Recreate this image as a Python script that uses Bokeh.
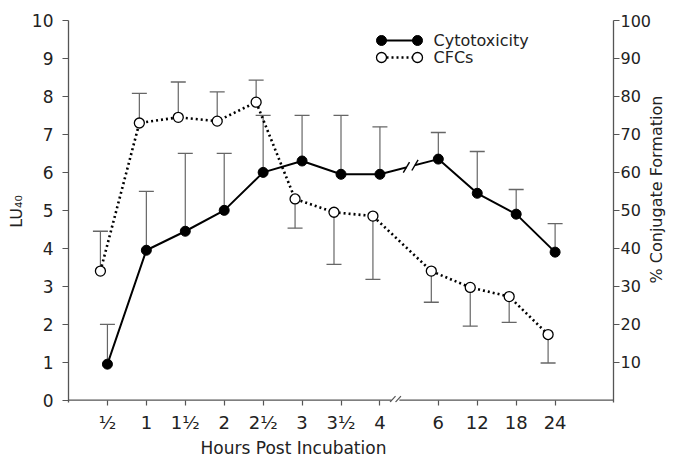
import math
from bokeh.plotting import figure
from bokeh.models import (Range1d, LinearAxis, FixedTicker, Whisker, ColumnDataSource,
                          Label, Arrow, TeeHead)
from bokeh.embed import file_html
from bokeh.resources import INLINE

# ---------------- data ----------------
hours = ["½", "1", "1½", "2", "2½", "3", "3½", "4", "6", "12", "18", "24"]
cyto = [0.95, 3.95, 4.45, 5.0, 6.0, 6.3, 5.95, 5.95, 6.35, 5.45, 4.9, 3.9]
cyto_err_top = [2.0, 5.5, 6.5, 6.5, 7.5, 7.5, 7.5, 7.2, 7.05, 6.55, 5.55, 4.65]
cfc = [34.0, 73.0, 74.5, 73.5, 78.5, 53.0, 49.5, 48.5, 34.0, 29.7, 27.3, 17.3]
cfc_err_end = [44.5, 80.8, 83.8, 81.2, 84.3, 45.3, 35.8, 31.8, 25.8, 19.5, 20.5, 9.8]
left_ticks = list(range(0, 11))
right_ticks = list(range(10, 101, 10))

# ---------------- layout helpers ----------------
FONT = "DejaVu Sans"
TXT = "#222222"
AX = "#555555"
W, H = 678, 466
ML, MR, MT, MB = 68, 65, 20, 64
XMAX = 14.0
YMIN = -0.06
FW, FH = W - ML - MR, H - MT - MB
YS = FH / (10.0 - YMIN)          # px per left-axis unit
# category positions (axis break after "4")
xpos = [float(i + 1 + (0.5 if i >= 8 else 0)) for i in range(len(hours))]
cfc_x = [x - 0.18 for x in xpos]

def dx(px):  # canvas pixel -> data x
    return (px - ML) / (FW / XMAX)

def dy(py):  # canvas pixel -> data y (left axis units)
    return (MT + 10.0 * YS - py) / YS

p = figure(width=W, height=H, x_range=Range1d(0, XMAX), y_range=Range1d(YMIN, 10),
           output_backend="svg", toolbar_location=None, title=None,
           min_border_left=ML, min_border_right=MR, min_border_top=MT, min_border_bottom=MB)
p.extra_y_ranges = {"pct": Range1d(YMIN * 10, 100)}
p.grid.visible = False
p.outline_line_color = None
p.background_fill_color = "white"
p.border_fill_color = "white"

def style_axis(ax, size):
    ax.major_tick_line_color = AX
    ax.major_tick_line_width = 1.2
    ax.major_tick_in = 0
    ax.major_tick_out = 6
    ax.minor_tick_out = 0
    ax.minor_tick_in = 0
    ax.major_label_text_font = FONT
    ax.major_label_text_color = TXT
    ax.major_label_text_font_size = size

# bottom axis (ticks only, line drawn with a break below)
xa = p.xaxis[0]
xa.ticker = FixedTicker(ticks=xpos)
xa.major_label_overrides = {x: h for x, h in zip(xpos, hours)}
style_axis(xa, "18px")
xa.axis_line_color = None
xa.major_tick_in = 2
xa.major_tick_out = 3
xa.major_label_standoff = 6

# left axis
ya = p.yaxis[0]
ya.ticker = FixedTicker(ticks=left_ticks)
style_axis(ya, "17px")
ya.axis_line_color = AX
ya.axis_line_width = 1.3
ya.major_label_standoff = 9
ya.axis_label = "LU₄₀"
ya.axis_label_text_font = FONT
ya.axis_label_text_font_style = "normal"
ya.axis_label_text_font_size = "16px"
ya.axis_label_text_color = TXT
ya.axis_label_standoff = 3

# right axis
rax = LinearAxis(y_range_name="pct", ticker=FixedTicker(ticks=right_ticks))
style_axis(rax, "16px")
rax.axis_line_color = AX
rax.axis_line_width = 1.3
rax.major_label_standoff = 1
p.add_layout(rax, "right")

# right axis title (reads bottom-to-top), a single rotated label in its own side axis
yt = dy(283)
rtitle = LinearAxis(ticker=FixedTicker(ticks=[yt]),
                    major_label_overrides={yt: "% Conjugate Formation"},
                    major_label_orientation=math.pi / 2)
style_axis(rtitle, "16px")
rtitle.axis_line_color = None
rtitle.major_tick_line_color = None
rtitle.major_tick_out = 0
rtitle.major_label_standoff = 2
p.add_layout(rtitle, "right")

# bottom axis title, placed under the first half like the reference
xt = dx(293)
btitle = LinearAxis(ticker=FixedTicker(ticks=[xt]),
                    major_label_overrides={xt: "Hours Post Incubation"})
style_axis(btitle, "17px")
btitle.axis_line_color = None
btitle.major_tick_line_color = None
btitle.major_tick_out = 0
btitle.major_label_standoff = 2
p.add_layout(btitle, "below")

# bottom axis line with break
brk = (xpos[7] + xpos[8]) / 2 - 0.35
for xs, xe in [(0, brk - 0.1), (brk + 0.1, XMAX)]:
    p.add_layout(Arrow(end=None, x_start=xs, y_start=0, x_end=xe, y_end=0,
                       line_color=AX, line_width=1.3))
for xc in [brk - 0.07, brk + 0.07]:
    p.add_layout(Arrow(end=None, x_start=xc - 0.07, y_start=-0.05, x_end=xc + 0.07, y_end=0.11,
                       line_color=AX, line_width=1.2))

# error bars
EB = "#666666"
p.add_layout(Whisker(source=ColumnDataSource(dict(base=xpos, lower=cyto, upper=cyto_err_top)),
                     base="base", lower="lower", upper="upper", lower_head=None,
                     upper_head=TeeHead(size=15, line_color=EB, line_width=1.3),
                     line_color=EB, line_width=1.2))
up = [i for i in range(len(cfc)) if cfc_err_end[i] > cfc[i]]
dn = [i for i in range(len(cfc)) if cfc_err_end[i] <= cfc[i]]
p.add_layout(Whisker(source=ColumnDataSource(dict(base=[cfc_x[i] for i in up],
                                                  lower=[cfc[i] for i in up],
                                                  upper=[cfc_err_end[i] for i in up])),
                     base="base", lower="lower", upper="upper", lower_head=None,
                     upper_head=TeeHead(size=15, line_color=EB, line_width=1.3),
                     line_color=EB, line_width=1.2, y_range_name="pct"))
p.add_layout(Whisker(source=ColumnDataSource(dict(base=[cfc_x[i] for i in dn],
                                                  lower=[cfc_err_end[i] for i in dn],
                                                  upper=[cfc[i] for i in dn])),
                     base="base", lower="lower", upper="upper", upper_head=None,
                     lower_head=TeeHead(size=15, line_color=EB, line_width=1.3),
                     line_color=EB, line_width=1.2, y_range_name="pct"))

# series
p.line(xpos, cyto, line_color="black", line_width=2)
p.line(cfc_x, cfc, line_color="black", line_width=2.6, line_dash="2 3", y_range_name="pct")
p.scatter(xpos, cyto, marker="circle", size=10, fill_color="black", line_color="black")
p.scatter(cfc_x, cfc, marker="circle", size=10, fill_color="white", line_color="black",
          line_width=1.3, y_range_name="pct")

# break on the cytotoxicity line between "4" and "6"
def interp(x):
    x0, x1, y0, y1 = xpos[7], xpos[8], cyto[7], cyto[8]
    return y0 + (y1 - y0) * (x - x0) / (x1 - x0)
g0, g1 = xpos[7] + 0.68, xpos[7] + 0.9
p.add_layout(Arrow(end=None, x_start=g0, y_start=interp(g0), x_end=g1, y_end=interp(g1),
                   line_color="white", line_width=6))
for xc in [g0, g1]:
    yc = interp(xc)
    p.add_layout(Arrow(end=None, x_start=xc - 0.08, y_start=yc - 0.14, x_end=xc + 0.08,
                       y_end=yc + 0.14, line_color="black", line_width=1.4))

# legend (manual)
lx0, lx1, ltx = dx(381), dx(417), dx(433)
ly1, ly2 = dy(40), dy(57)
p.line([lx0, lx1], [ly1, ly1], line_color="black", line_width=2)
p.scatter([lx0, lx1], [ly1, ly1], marker="circle", size=10, fill_color="black", line_color="black")
p.line([lx0, lx1], [ly2, ly2], line_color="black", line_width=2.6, line_dash="2 3")
p.scatter([lx0, lx1], [ly2, ly2], marker="circle", size=10, fill_color="white",
          line_color="black", line_width=1.3)
p.add_layout(Label(x=ltx, y=ly1, text="Cytotoxicity", text_font=FONT, text_font_size="16px",
                   text_color=TXT, text_baseline="middle", text_align="left"))
p.add_layout(Label(x=ltx, y=ly2, text="CFCs", text_font=FONT, text_font_size="16px",
                   text_color=TXT, text_baseline="middle", text_align="left"))

open("out.html", "w").write(file_html(p, INLINE))
